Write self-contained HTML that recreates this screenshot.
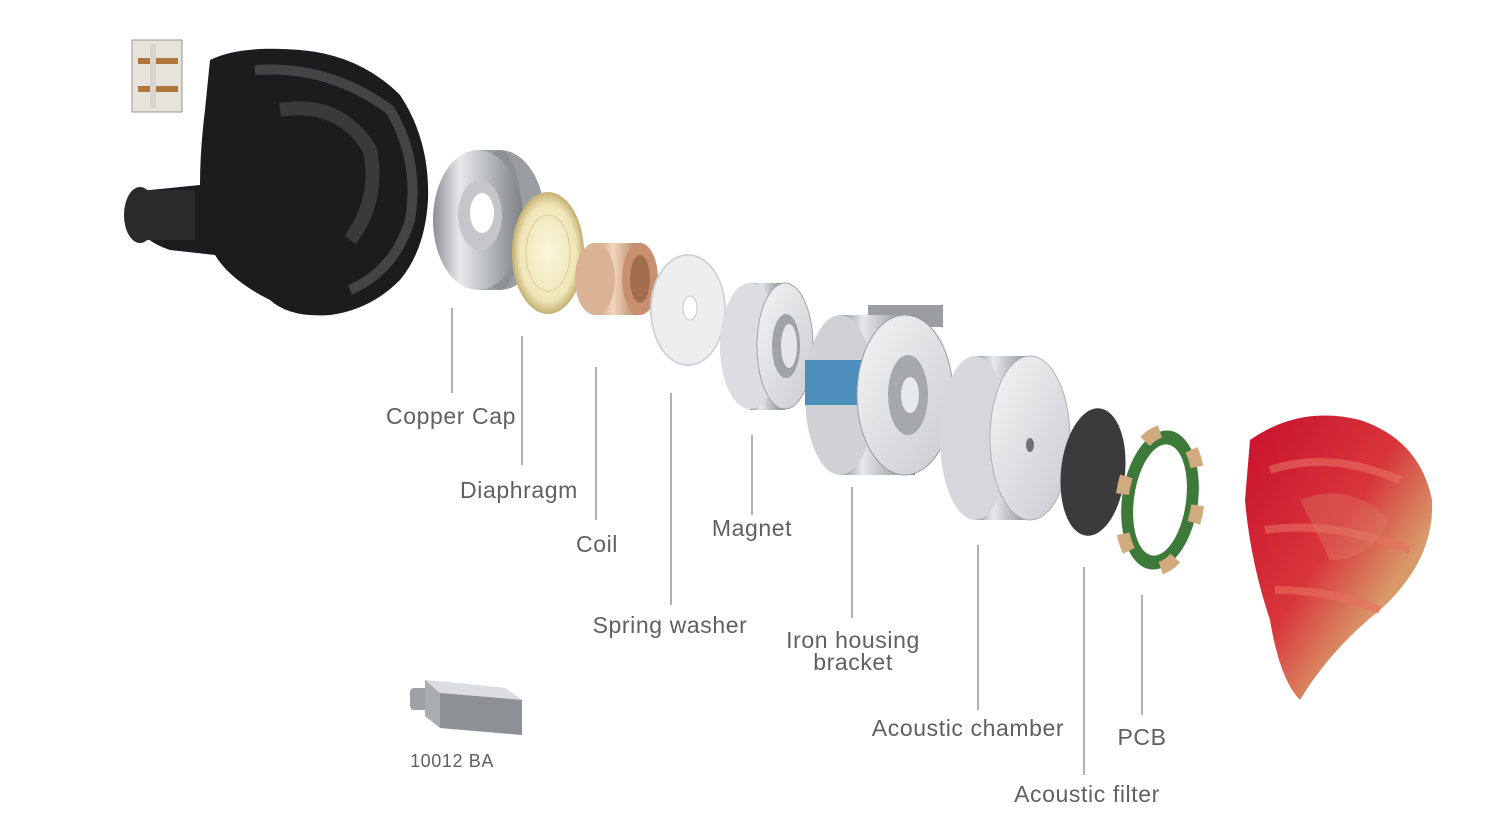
<!DOCTYPE html>
<html><head><meta charset="utf-8"><style>
html,body{margin:0;padding:0;background:#fff;}
svg{display:block;}
text{font-family:"Liberation Sans",sans-serif;fill:#606060;font-size:23px;letter-spacing:0.6px;}
</style></head><body>
<svg width="1500" height="824" viewBox="0 0 1500 824" xmlns="http://www.w3.org/2000/svg">
<defs>
<linearGradient id="metal" x1="0" y1="0" x2="1" y2="0">
<stop offset="0" stop-color="#8c8f94"/><stop offset="0.3" stop-color="#e8e9eb"/><stop offset="0.6" stop-color="#b9bcc0"/><stop offset="1" stop-color="#7d8085"/></linearGradient>
<linearGradient id="metal2" x1="0" y1="0" x2="1" y2="1">
<stop offset="0" stop-color="#f4f4f5"/><stop offset="1" stop-color="#c9cbcf"/></linearGradient>
<linearGradient id="copper" x1="0" y1="0" x2="1" y2="0">
<stop offset="0" stop-color="#c99a7a"/><stop offset="0.4" stop-color="#f3d6bf"/><stop offset="1" stop-color="#b07c5a"/></linearGradient>
<linearGradient id="red" x1="0" y1="0" x2="1" y2="1">
<stop offset="0" stop-color="#c8102e"/><stop offset="0.45" stop-color="#d8353a"/><stop offset="0.7" stop-color="#d99a6a"/><stop offset="1" stop-color="#b8743e"/></linearGradient>
<radialGradient id="diaph" cx="0.5" cy="0.5" r="0.5">
<stop offset="0" stop-color="#fbf6dc"/><stop offset="0.8" stop-color="#f0e6b8"/><stop offset="1" stop-color="#c9b67a"/></radialGradient>
</defs>

<g>
<rect x="132" y="40" width="50" height="72" fill="#e6e2dc" stroke="#9a948c"/>
<rect x="138" y="58" width="40" height="6" fill="#b0763e"/>
<rect x="138" y="86" width="40" height="6" fill="#b0763e"/>
<rect x="150" y="44" width="6" height="64" fill="#d8d4ce"/>
</g>

<g>
<path d="M210 60 Q240 45 300 50 Q360 55 400 95 Q430 140 428 200 Q425 250 400 280 Q370 310 330 315 Q290 318 270 300 Q230 280 215 255 L170 250 Q140 240 135 220 Q130 200 150 190 L200 185 Q200 150 205 110 Z" fill="#1c1c1e"/>
<path d="M255 70 Q330 65 390 110 Q420 160 410 220 Q395 270 350 290" fill="none" stroke="#444" stroke-width="10"/>
<path d="M280 110 Q340 100 370 150 Q380 200 350 240" fill="none" stroke="#3a3a3c" stroke-width="14"/>
<ellipse cx="140" cy="215" rx="16" ry="28" fill="#2a2a2c"/>
<rect x="140" y="190" width="55" height="50" fill="#2a2a2c"/>
</g>

<g>
<path d="M478 150 L500 150 A45 70 0 0 1 500 290 L478 290 Z" fill="#9a9da2"/>
<ellipse cx="500" cy="220" rx="22" ry="70" fill="#8d9095"/>
<ellipse cx="478" cy="220" rx="45" ry="70" fill="url(#metal)"/>
<ellipse cx="480" cy="215" rx="22" ry="35" fill="#c4c6c9"/>
<ellipse cx="482" cy="213" rx="12" ry="20" fill="#fff"/>
</g>

<ellipse cx="548" cy="253" rx="35" ry="60" fill="url(#diaph)" stroke="#c7b57a" stroke-width="2"/>
<ellipse cx="548" cy="253" rx="22" ry="38" fill="none" stroke="#d8cc98"/>

<g>
<rect x="595" y="243" width="45" height="72" fill="url(#copper)"/>
<ellipse cx="595" cy="279" rx="20" ry="36" fill="#d9b394"/>
<ellipse cx="640" cy="279" rx="18" ry="36" fill="#c89070"/>
<ellipse cx="640" cy="279" rx="10" ry="24" fill="#a36e4e"/>
</g>

<ellipse cx="688" cy="310" rx="37" ry="55" fill="#eeeef0" stroke="#d2d3d6" stroke-width="2"/>
<ellipse cx="690" cy="308" rx="7" ry="12" fill="#fff" stroke="#c8c9cc"/>

<g>
<rect x="750" y="283" width="35" height="127" fill="url(#metal)"/>
<ellipse cx="750" cy="346" rx="30" ry="63" fill="#dcdde0"/>
<ellipse cx="785" cy="346" rx="28" ry="63" fill="url(#metal2)" stroke="#a0a3a7"/>
<ellipse cx="786" cy="346" rx="14" ry="32" fill="#9fa2a6"/>
<ellipse cx="789" cy="346" rx="8" ry="22" fill="#e5e6e8"/>
</g>

<g>
<rect x="868" y="305" width="75" height="22" fill="#9a9da2"/>
<rect x="840" y="315" width="75" height="160" fill="url(#metal)"/>
<ellipse cx="840" cy="395" rx="35" ry="80" fill="#cfd1d4"/>
<rect x="805" y="360" width="110" height="45" fill="#3e85b8" opacity="0.9"/>
<ellipse cx="905" cy="395" rx="48" ry="80" fill="url(#metal2)" stroke="#9a9da2"/>
<ellipse cx="908" cy="395" rx="20" ry="40" fill="#a5a8ac"/>
<ellipse cx="910" cy="395" rx="9" ry="18" fill="#e8e9eb"/>
</g>

<g>
<rect x="975" y="356" width="60" height="164" fill="url(#metal)"/>
<ellipse cx="975" cy="438" rx="35" ry="82" fill="#d5d7da"/>
<ellipse cx="1030" cy="438" rx="40" ry="82" fill="url(#metal2)" stroke="#aeb1b5"/>
<ellipse cx="1030" cy="445" rx="4" ry="7" fill="#6f7175"/>
</g>

<ellipse cx="1093" cy="472" rx="32" ry="64" fill="#3b3b3d" transform="rotate(6 1093 472)"/>

<g transform="rotate(8 1160 500)">
<ellipse cx="1160" cy="500" rx="38" ry="70" fill="#3d7a3a"/>
<ellipse cx="1160" cy="500" rx="38" ry="70" fill="none" stroke="#d2aa80" stroke-width="13" stroke-dasharray="18 40"/>
<ellipse cx="1160" cy="500" rx="26" ry="56" fill="#fff"/>
</g>

<g>
<path d="M1250 440 Q1300 405 1360 420 Q1420 440 1432 500 Q1435 560 1380 610 Q1330 650 1300 700 Q1280 680 1270 620 Q1250 560 1245 500 Z" fill="url(#red)"/>
<path d="M1270 470 Q1330 450 1400 480 M1265 530 Q1330 520 1410 550 M1275 590 Q1330 590 1380 610" fill="none" stroke="#e87060" stroke-width="8" opacity="0.6"/>
<path d="M1300 500 Q1350 480 1390 520 Q1370 560 1330 560 Z" fill="#e0806a" opacity="0.35"/>
</g>

<g>
<rect x="410" y="688" width="20" height="22" rx="4" fill="#9ea1a5"/>
<path d="M425 680 L505 688 L522 700 L522 735 L440 728 L425 716 Z" fill="#a9acb0"/>
<path d="M425 680 L505 688 L522 700 L440 693 Z" fill="#dcdde0"/>
<path d="M440 693 L522 700 L522 735 L440 728 Z" fill="#8d9095"/>
</g>

<g stroke="#888" stroke-width="1.3">
<line x1="452" y1="308" x2="452" y2="393"/>
<line x1="522" y1="336" x2="522" y2="465"/>
<line x1="596" y1="367" x2="596" y2="520"/>
<line x1="671" y1="393" x2="671" y2="605"/>
<line x1="752" y1="435" x2="752" y2="515"/>
<line x1="852" y1="487" x2="852" y2="618"/>
<line x1="978" y1="545" x2="978" y2="710"/>
<line x1="1084" y1="567" x2="1084" y2="775"/>
<line x1="1142" y1="595" x2="1142" y2="715"/>
</g>

<g text-anchor="middle">
<text x="451" y="424">Copper Cap</text>
<text x="519" y="498">Diaphragm</text>
<text x="597" y="552">Coil</text>
<text x="670" y="633">Spring washer</text>
<text x="752" y="536">Magnet</text>
<text x="853" y="648">Iron housing</text>
<text x="853" y="670">bracket</text>
<text x="968" y="736">Acoustic chamber</text>
<text x="1087" y="802">Acoustic filter</text>
<text x="1142" y="745">PCB</text>
<text x="452" y="767" style="font-size:18px">10012 BA</text>
</g>
</svg>
</body></html>
